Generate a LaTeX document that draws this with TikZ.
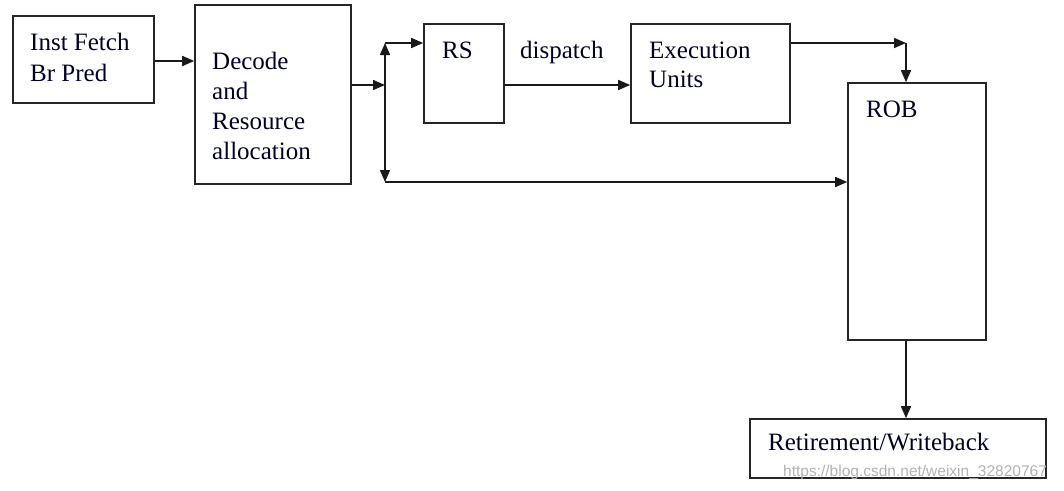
\documentclass[tikz,border=0pt]{standalone}
\usepackage{fontspec}
\setmainfont{Liberation Serif}
\newfontfamily\wmfont{Liberation Sans}
\usetikzlibrary{arrows.meta}
\tikzset{
  box/.style={draw=black!85, line width=1.6pt, rectangle, inner sep=0pt},
  lbl/.style={anchor=base west, inner sep=0pt, font=\fontsize{25}{30}\selectfont, text=black!85!blue},
  conn/.style={draw=black!90, line width=1.5pt, -{Triangle[length=12pt,width=10pt]}},
  plain/.style={draw=black!90, line width=1.5pt}
}
\begin{document}
\begin{tikzpicture}[x=1pt,y=-1pt]
\useasboundingbox[fill=white] (0,0) rectangle (1064,490);
% boxes
\node[box, minimum width=141pt, minimum height=87pt] (fetch) at (83.5,59.5) {};
\node[box, minimum width=156pt, minimum height=179pt] (decode) at (273,94.5) {};
\node[box, minimum width=80pt, minimum height=99pt] (rs) at (464,73.5) {};
\node[box, minimum width=159pt, minimum height=99pt] (exec) at (710.5,73.5) {};
\node[box, minimum width=138pt, minimum height=257pt] (rob) at (917,211.5) {};
\node[box, minimum width=296pt, minimum height=59pt] (ret) at (898,448.5) {};
% labels
\node[lbl] (tf1) at (30,50) {Inst Fetch};
\node[lbl] (tf2) at (30,81) {Br Pred};
\node[lbl] (td1) at (212,69) {Decode};
\node[lbl] (td2) at (212,99) {and};
\node[lbl] (td3) at (212,129) {Resource};
\node[lbl] (td4) at (212,159) {allocation};
\node[lbl] (trs) at (442,58) {RS};
\node[lbl] (tdis) at (520,58) {dispatch};
\node[lbl] (te1) at (649,58) {Execution};
\node[lbl] (te2) at (649,87) {Units};
\node[lbl] (trob) at (866,117) {ROB};
\node[lbl] (tret) at (768,450) {Retirement/Writeback};
\node[anchor=base west, inner sep=0pt, font=\wmfont\fontsize{15.5}{18}\selectfont, text=black!30] (wm) at (783,476) {https://blog.csdn.net/weixin\_32820767};
% coordinates
\coordinate (j) at (385,85);
\coordinate (jt) at (385,43);
\coordinate (jb) at (385,182);
\coordinate (c) at (906,43);
% connectors
\draw[conn] (fetch.east |- 0,61) -- (decode.west |- 0,61);
\draw[conn] (decode.east |- j) -- (j);
\draw[conn] (j) -- (jt);
\draw[conn] (jt) -- (rs.west |- jt);
\draw[conn] (j) -- (jb);
\draw[conn] (jb) -- (rob.west |- jb);
\draw[conn] (rs.east |- 0,85) -- (exec.west |- 0,85);
\draw[conn] (exec.east |- c) -- (c);
\draw[conn] (c) -- (c |- rob.north);
\draw[conn] (c |- rob.south) -- (c |- ret.north);
\end{tikzpicture}
\end{document}
